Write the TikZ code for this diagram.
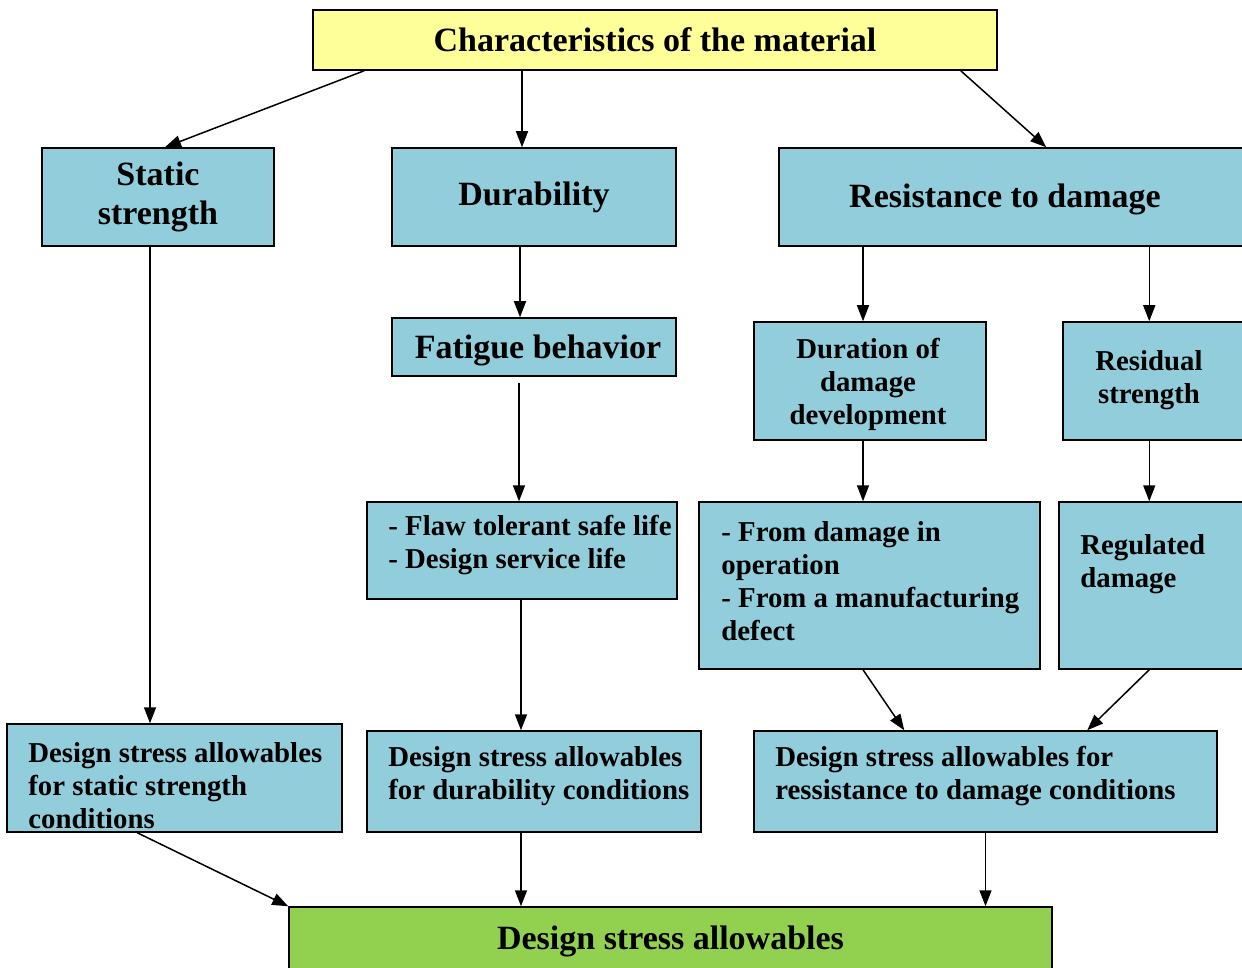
\documentclass[tikz,border=0pt]{standalone}
\usepackage{fontspec}
\setmainfont{Liberation Serif}
\usetikzlibrary{arrows.meta}
\definecolor{charyellow}{RGB}{255,255,153}
\definecolor{boxblue}{RGB}{146,205,220}
\definecolor{finalgreen}{RGB}{146,208,80}

\begin{document}
\begin{tikzpicture}[
    x=0.5pt, y=-0.5pt,
    box/.style={rectangle, draw, line width=0.75pt, fill=boxblue, inner sep=0pt, align=center, font=\bfseries\fontsize{17}{19.5}\selectfont},
    txt/.style={inner sep=0pt, align=left, anchor=north west, font=\bfseries\fontsize{14.4}{16.5}\selectfont},
    ctxt/.style={inner sep=0pt, align=center, font=\bfseries\fontsize{17}{19.5}\selectfont},
    stxt/.style={ctxt, font=\bfseries\fontsize{14.4}{16.5}\selectfont},
    arrow/.style={-{Triangle[length=8pt,width=6pt]}, line width=0.75pt}
]
\useasboundingbox (0,0) rectangle (1242,968);
\clip (0,0) rectangle (1242,968);

% Top
\node[box, fill=charyellow, minimum width=342pt, minimum height=30pt] (charact) at (655,40) {Characteristics of the material};

% First row
\node[box, minimum width=116pt, minimum height=49pt] (static) at (158,197) {Static\\strength};
\node[box, minimum width=142pt, minimum height=49pt] (durab) at (534,197) {Durability};
\node[box, minimum width=241.5pt, minimum height=49pt] (resist) at (1020.5,197) {};
\node[ctxt] (resist-t) at (1005,199) {Resistance to damage};

% Second row
\node[box, minimum width=142pt, minimum height=29pt] (fatigue) at (534,347) {};
\node[ctxt] (fatigue-t) at (538,350) {Fatigue behavior};
\node[box, minimum width=116pt, minimum height=59pt] (duration) at (870,381) {};
\node[stxt] (duration-t) at (868,384) {Duration of\\damage\\development};
\node[box, minimum width=99.5pt, minimum height=59pt] (residual) at (1162.5,381) {};
\node[stxt] (residual-t) at (1149,380) {Residual\\strength};

% Third row
\node[box, minimum width=155pt, minimum height=48.5pt] (flaw) at (522,550.5) {};
\node[txt] (flaw-t) at (388,515) {- Flaw tolerant safe life\\- Design service life};
\node[box, minimum width=170.5pt, minimum height=83.5pt] (fromdmg) at (869.5,585.5) {};
\node[txt] (fromdmg-t) at (721,521) {- From damage in\\operation\\- From a manufacturing\\defect};
\node[box, minimum width=101.5pt, minimum height=83.5pt] (regul) at (1160.5,585.5) {};
\node[txt] (regul-t) at (1080,534) {Regulated\\damage};

% Design stress allowables
\node[box, minimum width=167.5pt, minimum height=54pt] (dsastat) at (174.5,778) {};
\node[txt] (dsastat-t) at (28,742) {Design stress allowables\\for static strength\\conditions};
\node[box, minimum width=167pt, minimum height=50.5pt] (dsadur) at (534,781.5) {};
\node[txt] (dsadur-t) at (388,746) {Design stress allowables\\for durability conditions};
\node[box, minimum width=231.5pt, minimum height=50.5pt] (dsares) at (985.5,781.5) {};
\node[txt] (dsares-t) at (775,746) {Design stress allowables for\\ressistance to damage conditions};

% Result
\node[box, fill=finalgreen, minimum width=381.5pt, minimum height=34.5pt] (final) at (670.5,941.5) {Design stress allowables};

% Arrows from the top
\draw[arrow] ([xshift=26pt]charact.south west) -- ([xshift=3.5pt]static.north);
\draw[arrow] ([xshift=-6pt]durab.north |- charact.south) -- ([xshift=-6pt]durab.north);
\draw[arrow] ([xshift=-18.5pt]charact.south east) -- ([xshift=134pt]resist.north west);

% Static strength path
\draw[arrow] ([xshift=-4pt]static.south) -- ([xshift=-4pt]static.south |- dsastat.north);

% Durability path
\draw[arrow] ([xshift=-7pt]durab.south) -- ([xshift=-7pt]durab.south |- fatigue.north);
\draw[arrow] ([xshift=-7.5pt, yshift=-3pt]fatigue.south) -- ([xshift=-7.5pt]fatigue.south |- flaw.north);
\draw[arrow] ([xshift=-0.5pt]flaw.south) -- ([xshift=-0.5pt]flaw.south |- dsadur.north);

% Resistance to damage path
\draw[arrow] ([xshift=-3.5pt]duration.north |- resist.south) -- ([xshift=-3.5pt]duration.north);
\draw[arrow] ([xshift=43.5pt]residual.north west |- resist.south) -- ([xshift=43.5pt]residual.north west);
\draw[arrow] ([xshift=-3.5pt]duration.south) -- ([xshift=-3.5pt]duration.south |- fromdmg.north);
\draw[arrow] ([xshift=43.5pt]residual.south west) -- ([xshift=43.5pt]residual.south west |- regul.north);
\draw[arrow] ([xshift=-3.25pt]fromdmg.south) -- ([xshift=75.5pt]dsares.north west);
\draw[arrow] ([xshift=45.5pt]regul.south west) -- ([xshift=167pt]dsares.north west);

% Into the result
\draw[arrow] ([xshift=65.5pt]dsastat.south west) -- (final.north west);
\draw[arrow] ([xshift=-6.5pt]dsadur.south) -- ([xshift=-6.5pt]dsadur.south |- final.north);
\draw[arrow] (dsares.south) -- (dsares.south |- final.north);

\end{tikzpicture}
\end{document}
